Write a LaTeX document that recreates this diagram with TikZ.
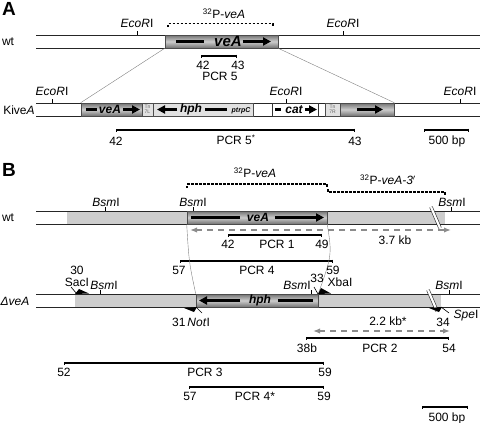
\documentclass[tikz,border=0pt]{standalone}
\usepackage{fontspec}
\setmainfont{Liberation Sans}
\usetikzlibrary{positioning, arrows.meta}
\definecolor{flankgray}{RGB}{205,205,205}
\definecolor{boxgray}{RGB}{225,225,225}

\begin{document}
\begin{tikzpicture}[x=1pt, y=-1pt, font=\fontsize{12}{14}\selectfont,
  chrom/.style={line width=0.9pt, black!85},
  genebox/.style={draw=black!70, line width=0.6pt, inner sep=0pt, minimum height=13pt,
    top color=black!55, bottom color=black!55, middle color=black!20},
  flank/.style={fill=flankgray, inner sep=0pt, minimum height=13pt},
  lightbox/.style={draw=black!70, line width=0.5pt, fill=boxgray, inner sep=0pt, minimum height=13pt},
  tnbox/.style={lightbox, font=\fontsize{5}{5.5}\selectfont, align=center, text=black!60},
  genename/.style={font=\fontsize{12}{14}\selectfont\bfseries\itshape},
  bigname/.style={font=\fontsize{15}{16}\selectfont\bfseries\itshape},
  genebar/.style={line width=2.6pt},
  genearrow/.style={line width=2.6pt, -{Triangle[length=8pt,width=8pt]}},
  site/.style={line width=0.8pt},
  pcr/.style={line width=1.1pt, {Bar[width=3pt]}-{Bar[width=3pt]}},
  probe/.style={dash pattern=on 2.5pt off 1.5pt, line width=1.1pt},
  sizearrow/.style={dash pattern=on 6pt off 5pt, line width=1.2pt, black!45, {Latex[length=7pt]}-{Latex[length=7pt]}},
  zoomline/.style={black!50, line width=0.4pt},
  cutmark/.style={double=white, double distance=2.2pt, line width=0.6pt, black!85},
  panel/.style={font=\fontsize{19}{19}\selectfont\bfseries}
]
\useasboundingbox (0,0) rectangle (480,423);

% ---------------- Panel A ----------------
\node[panel] (labA) at (9,9) {A};

% wt locus
\node (wtA) at (8,42) {wt};
\draw[chrom] (36,35) -- (480,35);
\draw[chrom] (36,48) -- (480,48);
\node[genebox, minimum width=113pt] (aveA) at (221.5,41.5) {};
\draw[genebar] (176,41.5) -- (204,41.5);
\node[bigname] (aveAtxt) at (228,41.5) {veA};
\draw[genearrow] (243,41.5) -- (271,41.5);

\draw[site] (137,31) -- (137,35);
\node (ecoA1) at (137,23) {\textit{EcoR}I};
\draw[site] (343,31) -- (343,35);
\node (ecoA2) at (343,23) {\textit{EcoR}I};

% probe
\draw[probe] (168,27) -- (168,23.5) -- (273,23.5) -- (273,27);
\node (probeA) at (224,14) {\textsuperscript{32}P-\textit{veA}};

% PCR 5
\draw[pcr] (201,56) -- (237,56);
\node (p42a) at (203,65) {42};
\node (p43a) at (238,65) {43};
\node (pcr5) at (220,76) {PCR 5};

% KiveA locus
\node (kiA) at (19,110) {Kive\textit{A}};
\draw[chrom] (36,103) -- (480,103);
\draw[chrom] (36,116) -- (480,116);
\node[genebox, minimum width=61pt] (kveA) at (111.5,109.5) {};
\node[tnbox, minimum width=11pt] (tn7l) at (147.5,109.5) {Tn\\7L};
\node[lightbox, minimum width=100pt] (khph) at (203,109.5) {};
\node[draw=black!80, line width=0.6pt, fill=white, inner sep=0pt, minimum height=13pt, minimum width=46pt] (kcat) at (295,109.5) {};
\node[tnbox, minimum width=15pt] (tn7r) at (332.5,109.5) {Tn\\7R};
\node[genebox, minimum width=54pt] (kveA3) at (367,109.5) {};

\draw[genebar] (86,109.5) -- (97,109.5);
\node[genename] (kveAtxt) at (110,109.5) {veA};
\draw[genearrow] (123,109.5) -- (140,109.5);
\draw[genearrow] (177,109.5) -- (157,109.5);
\node[genename] (khphtxt) at (191,109.5) {hph};
\draw[genebar] (205,109.5) -- (227,109.5);
\node[font=\fontsize{7}{8}\selectfont\bfseries\itshape] (ptrpc) at (241,110.5) {ptrpC};
\draw[genebar] (275,109.5) -- (281,109.5);
\node[genename] (kcattxt) at (294,109.5) {cat};
\draw[genearrow] (305,109.5) -- (317,109.5);
\draw[genearrow] (357,109.5) -- (383,109.5);

\draw[zoomline] (aveA.south west) -- (kveA.north west);
\draw[zoomline] (aveA.south east) -- (kveA3.north east);

\draw[site] (52,99) -- (52,103);
\node (ecoK1) at (52,91) {\textit{EcoR}I};
\draw[site] (286,99) -- (286,103);
\node (ecoK2) at (286,91) {\textit{EcoR}I};
\draw[site] (460,99) -- (460,103);
\node (ecoK3) at (460,91) {\textit{EcoR}I};

% PCR 5* and scale
\draw[pcr] (116,130) -- (355,130);
\node (p42k) at (116,141) {42};
\node (pcr5s) at (236,140) {PCR 5\textsuperscript{*}};
\node (p43k) at (355,141) {43};
\draw[line width=1.1pt, {Bar[width=3pt]}-{Bar[width=3pt]}] (424,130) -- (469,130);
\node (barA) at (447,141) {500 bp};

% ---------------- Panel B ----------------
\node[panel] (labB) at (9,170) {B};

% probes
\draw[probe] (187,188) -- (187,184) -- (327,184) -- (327,188);
\node (probeB1) at (255,173) {\textsuperscript{32}P-\textit{veA}};
\draw[probe] (328,189) -- (328,192) -- (445,192) -- (445,196);
\node (probeB2) at (388,180) {\textsuperscript{32}P-\textit{veA-3}$'$};

% wt locus
\node (wtB) at (8,218) {wt};
\node[flank, minimum width=120pt] (wtfl5) at (127,217.5) {};
\node[flank, minimum width=118pt] (wtfl3) at (386,217.5) {};
\draw[chrom] (36,211) -- (480,211);
\draw[chrom] (36,224) -- (480,224);
\node[genebox, minimum width=140pt] (wtveA) at (257,217.5) {};
\draw[genebar] (191,217.5) -- (240,217.5);
\node[genename] (wtveAtxt) at (258,217.5) {veA};
\draw[genearrow] (275,217.5) -- (324,217.5);
\draw[cutmark] (431,207) -- (440,228);

\draw[site] (105,207) -- (105,211);
\node (bsmW1) at (106,202) {\textit{Bsm}I};
\draw[site] (193,207) -- (193,211);
\node (bsmW2) at (193,202) {\textit{Bsm}I};
\draw[site] (451,207) -- (451,211);
\node (bsmW3) at (452,202) {\textit{Bsm}I};

\draw[sizearrow] (190,230) -- (451,230);
\node (kb37) at (395,240) {3.7 kb};

% PCR 1 and PCR 4
\draw[pcr] (228,235) -- (322,235);
\node (p42b) at (228,244) {42};
\node (pcr1) at (277,244) {PCR 1};
\node (p49) at (322,244) {49};
\draw[pcr] (180,261) -- (333,261);
\node (p57a) at (179,270) {57};
\node (pcr4) at (257,270) {PCR 4};
\node (p59a) at (333,270) {59};

% deletion locus
\node (dvA) at (15,301) {\textit{ΔveA}};
\node[flank, minimum width=121pt] (dfl5) at (135.5,300.5) {};
\node[flank, minimum width=123pt] (dfl3) at (379.5,300.5) {};
\draw[chrom] (36,294) -- (480,294);
\draw[chrom] (36,307) -- (480,307);
\node[genebox, minimum width=122pt] (dhph) at (257,300.5) {};
\draw[genearrow] (240,300.5) -- (199,300.5);
\node[genename] (dhphtxt) at (260,300.5) {hph};
\draw[genebar] (278,300.5) -- (313,300.5);
\draw[cutmark] (428,290) -- (437,311);

\draw[zoomline] (wtveA.south west) .. controls (189,262) .. (dhph.north west);
\draw[zoomline] (wtveA.south east) .. controls (332,255) .. (dhph.north east);

\draw[site] (100,290) -- (100,294);
\node (bsmD1) at (104,285) {\textit{Bsm}I};
\draw[site] (311,290) -- (311,294);
\node (bsmD2) at (297,285) {\textit{Bsm}I};
\draw[site] (449,290) -- (449,294);
\node (bsmD3) at (449,285) {\textit{Bsm}I};

% primer sites
\node (n30) at (77,270) {30};
\node (saci) at (77,282) {SacI};
\draw[line width=0.6pt] (71,287) -- (77,294);
\fill (75,294) -- (89,293.5) -- (79,289) -- cycle;

\draw[line width=0.6pt] (196,307) -- (202,313);
\fill (197,307) -- (184,308) -- (194,312) -- cycle;
\node (noti) at (191,322) {31\,\textit{Not}I};

\node (n33) at (317,278) {33};
\node (xbai) at (340,282) {XbaI};
\draw[line width=0.6pt] (314,287) -- (318,294);
\fill (318,294) -- (331,293.5) -- (321,288) -- cycle;

\draw[line width=0.6pt] (441,307) -- (449,313);
\fill (442,307) -- (429,308) -- (439,312) -- cycle;
\node (spei) at (466,316) {\textit{Spe}I};
\node (n34) at (443,322) {34};

% PCR 2, 3, 4*
\draw[sizearrow] (313,331) -- (450,331);
\node (kb22) at (388,321) {2.2 kb*};
\draw[pcr] (306,338) -- (449,338);
\node (p38b) at (307,348) {38b};
\node (pcr2) at (380,348) {PCR 2};
\node (p54) at (449,348) {54};

\draw[pcr] (64,363) -- (324,363);
\node (p52) at (64,372) {52};
\node (pcr3) at (205,372) {PCR 3};
\node (p59b) at (325,372) {59};

\draw[pcr] (189,387) -- (324,387);
\node (p57b) at (190,396) {57};
\node (pcr4s) at (255,396) {PCR 4*};
\node (p59c) at (324,396) {59};

\draw[line width=1.1pt, {Bar[width=3pt]}-{Bar[width=3pt]}] (422,407) -- (468,407);
\node (barB) at (447,418) {500 bp};
\end{tikzpicture}
\end{document}
